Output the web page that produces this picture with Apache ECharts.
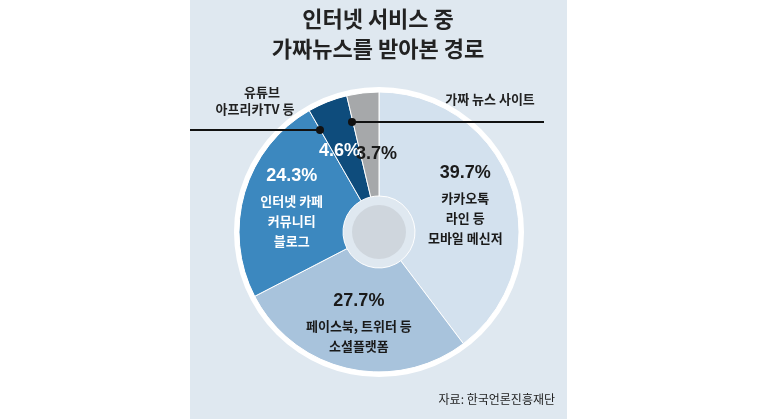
<!DOCTYPE html>
<html><head><meta charset="utf-8">
<script src="https://cdn.jsdelivr.net/npm/echarts@6/dist/echarts.min.js"></script>
<style>html,body{margin:0;padding:0;background:#fff}#c{width:757px;height:419px}</style>
</head><body><div id="c"></div>
<script>
const categories = ['카카오톡\n라인 등\n모바일 메신저','페이스북, 트위터 등\n소셜플랫폼','인터넷 카페\n커뮤니티\n블로그','유튜브 아프리카TV 등','가짜 뉴스 사이트'];
const values = [39.7, 27.7, 24.3, 4.6, 3.7];
const colors = ['#d3e1ee','#a8c3dc','#3c88bf','#0e4c7c','#a6a8aa'];
const textColors = ['#1a1a1a','#1a1a1a','#ffffff','#ffffff','#1a1a1a'];
const showName = [true,true,true,false,false];
const F = '"Noto Sans CJK KR", sans-serif';
const chart = echarts.init(document.getElementById('c'));
chart.setOption({
  animation:false,
  graphic:[
    {type:'rect',shape:{x:190,y:0,width:377,height:419},style:{fill:'#dfe8f0'},z:-10},
    {type:'text',style:{x:378,y:8,text:'인터넷 서비스 중',font:'bold 22px '+F,fill:'#222',align:'center'}},
    {type:'text',style:{x:378,y:38,text:'가짜뉴스를 받아본 경로',font:'bold 22px '+F,fill:'#222',align:'center'}},
    {type:'text',style:{x:262,y:86,text:'유튜브',font:'bold 13px '+F,fill:'#222',align:'center'}},
    {type:'text',style:{x:255,y:103,text:'아프리카TV 등',font:'bold 13px '+F,fill:'#222',align:'center'}},
    {type:'text',style:{x:490,y:93,text:'가짜 뉴스 사이트',font:'bold 13px '+F,fill:'#222',align:'center'}},
    {type:'line',shape:{x1:190,y1:130,x2:320,y2:130},style:{stroke:'#111',lineWidth:2},z:10},
    {type:'line',shape:{x1:352,y1:122,x2:544,y2:122},style:{stroke:'#111',lineWidth:2},z:10},
    {type:'circle',shape:{cx:320,cy:130,r:4},style:{fill:'#111'},z:10},
    {type:'circle',shape:{cx:352,cy:122,r:4},style:{fill:'#111'},z:10},
    {type:'circle',shape:{cx:379,cy:232,r:27},style:{fill:'#cfd6dd'},z:10},
    {type:'text',style:{x:555,y:393,text:'자료: 한국언론진흥재단',font:'12px '+F,fill:'#222',align:'right'}}
  ],
  series:[{
    type:'pie',center:[379,232],radius:[36,140],startAngle:90,clockwise:true,
    itemStyle:{borderColor:'#fff',borderWidth:1},
    emphasis:{disabled:true},
    labelLayout:{hideOverlap:false},
    data:values.map((v,i)=>({value:v,name:categories[i],itemStyle:{color:colors[i]},
      label:{color:textColors[i],formatter:showName[i]?'{a|'+v.toFixed(1)+'%}\n{b|{b}}':'{a|'+v.toFixed(1)+'%}',
        offset: i===3?[-6,4]:(i===4?[8,12]:[0,0])}})),
    label:{position:'inside',fontFamily:F,lineHeight:20,
      rich:{a:{fontSize:18,fontWeight:'bold',fontFamily:'Arial',lineHeight:30},b:{fontSize:13,fontWeight:'bold',fontFamily:F,lineHeight:20}}},
    labelLine:{show:false}
  },{
    type:'pie',center:[379,232],radius:[140,145],silent:true,label:{show:false},
    data:[{value:1,itemStyle:{color:'#ffffff'}}]
  }]
});
</script></body></html>
